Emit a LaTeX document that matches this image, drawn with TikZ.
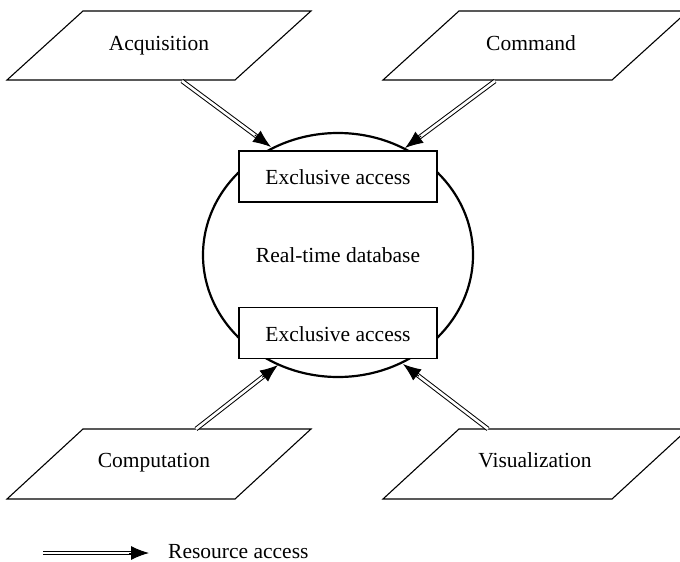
\documentclass[tikz,border=0pt]{standalone}
\usepackage{fontspec}
\setmainfont{Liberation Serif}
\usetikzlibrary{arrows.meta,shapes.geometric,calc}
\begin{document}
\begin{tikzpicture}[x=1pt,y=-1pt,
  lbl/.style={font=\fontsize{21.5}{26}\selectfont, inner sep=0pt, anchor=base},
  para/.style={line width=1.1pt},
  gate/.style={draw, line width=1.1pt, fill=white, minimum width=198pt, minimum height=51pt, inner sep=0pt},
  shaft/.style={double, double distance=2.6pt, line width=1pt, shorten >=12pt},
  head/.style={-{Latex[length=18pt,width=14pt]}, line width=1pt}
]
\clip (0,0) rectangle (680,562);
\useasboundingbox (0,0) rectangle (680,562);

% input / output parallelograms
\draw[para] (7,80) -- (235,80) -- (311,11) -- (83,11) -- cycle;
\draw[para] (383,80) -- (612,80) -- (688,11) -- (459,11) -- cycle;
\draw[para] (7,499) -- (235,499) -- (311,429) -- (83,429) -- cycle;
\draw[para] (383,499) -- (612,499) -- (688,429) -- (459,429) -- cycle;

\node[lbl] (acq) at (159,50) {Acquisition};
\node[lbl] (cmd) at (531,50) {Command};
\node[lbl] (comp) at (154,467) {Computation};
\node[lbl] (vis) at (535,467) {Visualization};

% the database and its two access gates
\node[draw, ellipse, line width=2.2pt, minimum width=270pt, minimum height=244pt, inner sep=0pt] (db) at (338,255) {};
\node[lbl] (dbl) at (338,262) {Real-time database};
\node[gate] (ex1) at (338,176.5) {};
\node[lbl] (ex1t) at (338,184) {Exclusive access};
\node[gate] (ex2) at (338,333) {};
\node[lbl] (ex2t) at (338,341) {Exclusive access};

% connector end points on the parallelogram edges and on the database rim
\coordinate (acqout) at (182,81);
\coordinate (cmdout) at (495,81);
\coordinate (compout) at (196,429);
\coordinate (visout) at (488,429);
\coordinate (inA) at (271,147);
\coordinate (inB) at (405,148);
\coordinate (inC) at (278,365);
\coordinate (inD) at (403,364);

\foreach \s/\t in {acqout/inA, cmdout/inB, compout/inC, visout/inD}{
  \draw[shaft] (\s) -- (\t);
  \draw[head] ($(\t)!20pt!(\s)$) -- (\t);
}

% legend
\coordinate (legA) at (43,553);
\coordinate (legB) at (149,553);
\draw[shaft] (legA) -- (legB);
\draw[head] ($(legB)!20pt!(legA)$) -- (legB);
\node[lbl, anchor=base west] (legt) at (168,558) {Resource access};
\end{tikzpicture}
\end{document}
